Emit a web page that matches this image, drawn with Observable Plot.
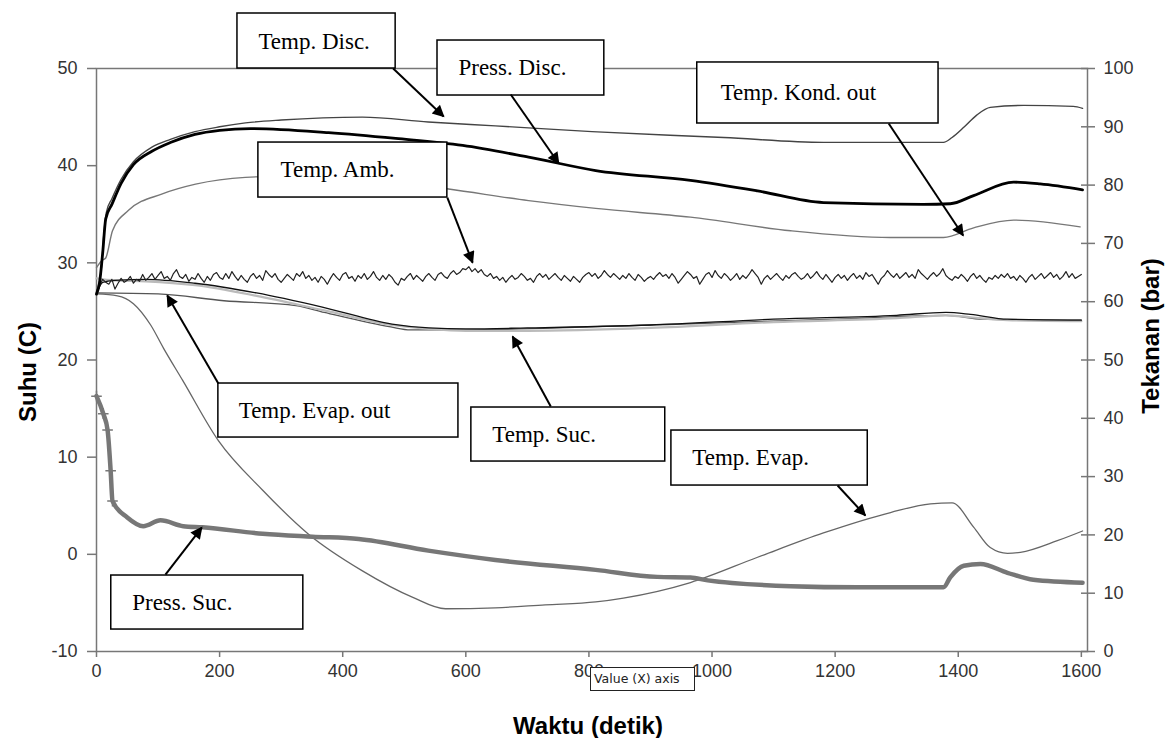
<!DOCTYPE html>
<html><head><meta charset="utf-8">
<script src="https://cdn.jsdelivr.net/npm/d3@7"></script>
<script src="https://cdn.jsdelivr.net/npm/@observablehq/plot@0.6"></script>
<style>
body{margin:0;background:#fff;}
#wrap{position:relative;width:1173px;height:738px;overflow:hidden;}
#tip{position:absolute;left:590px;top:667px;width:105px;height:24px;box-sizing:border-box;background:#fff;border:1px solid #222;font:12.5px "DejaVu Sans",sans-serif;color:#222;line-height:22px;padding-left:3px;white-space:nowrap;}
</style>
</head><body><div id="wrap"></div>
<script>
// ---- data (time in s; temperatures in °C; pressures in bar) ----
const discT = [0, 8, 12, 16, 25, 40, 60, 90, 120, 160, 200, 242, 300, 432, 539, 648, 805, 1019, 1181, 1376, 1390, 1410, 1430, 1452, 1506, 1587, 1602];
const discV = [27.0, 29.5, 33.0, 35.2, 36.6, 38.6, 40.4, 41.9, 42.7, 43.5, 44.0, 44.4, 44.7, 45.0, 44.5, 44.1, 43.5, 42.9, 42.4, 42.4, 42.9, 44.0, 45.2, 46.0, 46.2, 46.1, 45.9];

const pDiscT = [0, 5, 10, 15, 25, 40, 60, 90, 120, 160, 200, 250, 377, 486, 595, 702, 811, 965, 1074, 1181, 1343, 1387, 1425, 1490, 1533, 1602];
const pDiscBar = [61.3, 63.3, 68.3, 74.2, 76.7, 80.3, 83.5, 85.8, 87.3, 88.7, 89.4, 89.7, 89.0, 88.0, 86.8, 84.8, 82.5, 80.8, 79.0, 77.0, 76.7, 76.8, 78.2, 80.5, 80.2, 79.2];

const kondT = [0, 8, 15, 26, 52, 107, 161, 242, 300, 400, 500, 572, 702, 811, 965, 1128, 1290, 1376, 1425, 1490, 1598];
const kondV = [29.5, 30.2, 30.5, 33.3, 35.4, 37.1, 38.1, 38.8, 38.9, 38.8, 38.2, 37.6, 36.4, 35.6, 34.7, 33.3, 32.6, 32.6, 33.6, 34.4, 33.7];

const ambStep = 5;
const ambV = [
 26.8, 27.6, 28.3, 28.0, 27.8, 28.3, 27.3, 27.9, 28.4, 28.0,
 28.2, 28.6, 27.9, 28.3, 28.1, 28.8, 28.2, 28.5, 28.9, 28.3,
 28.7, 29.1, 28.4, 28.6, 28.2, 28.9, 29.3, 28.6, 28.4, 28.8,
 28.1, 28.5, 28.3, 28.9, 28.4, 28.0, 28.6, 28.2, 28.8, 29.0,
 28.5, 28.3, 28.9, 28.4, 29.1, 28.6, 28.2, 28.7, 28.3, 28.0,
 28.6, 28.9, 28.4, 28.7, 28.2, 29.2, 28.8, 28.5, 28.9, 28.3,
 28.0, 28.4, 28.8, 28.5, 28.2, 28.9, 28.6, 29.1, 28.4, 28.7,
 28.2, 28.5, 28.0, 28.6, 28.3, 27.8, 28.4, 28.9, 28.5, 28.2,
 28.8, 29.0, 28.4, 28.6, 28.1, 28.7, 28.4, 28.9, 28.3, 28.6,
 29.1, 28.5, 28.2, 28.7, 28.3, 28.8, 28.5, 28.0, 27.7, 28.4,
 28.2, 28.6, 28.9, 28.3, 28.7, 28.4, 28.1, 28.6, 28.9, 28.5,
 28.2, 28.8, 29.0, 28.6, 28.4, 28.9, 29.2, 28.8, 29.0, 29.4,
 29.3, 29.6, 29.1, 29.4, 29.0, 29.3, 28.8, 28.6, 28.9, 28.4,
 28.6, 28.2, 28.5, 28.0, 28.4, 28.7, 28.3, 28.5, 28.9, 28.6,
 28.2, 28.4, 28.0, 28.6, 28.9, 28.5, 28.8, 28.3, 28.6, 28.9,
 28.5, 28.2, 28.7, 28.4, 28.1, 28.6, 28.3, 28.0, 28.5, 28.8,
 29.0, 28.6, 28.9, 28.4, 28.7, 29.2, 28.8, 28.5, 28.9, 28.6,
 28.3, 28.7, 28.4, 28.9, 28.5, 28.2, 28.8, 28.5, 28.1, 28.4,
 28.6, 28.3, 28.7, 29.0, 28.6, 28.8, 28.4, 28.9, 28.5, 27.9,
 28.3, 28.7, 29.1, 28.8, 28.4, 28.6, 27.8, 28.3, 28.8, 29.0,
 28.5, 29.2, 28.7, 28.4, 28.9, 28.6, 28.2, 28.5, 28.9, 28.3,
 28.7, 28.4, 28.8, 29.3, 28.9, 28.5, 27.8, 28.4, 28.7, 28.3,
 28.6, 28.9, 28.5, 28.2, 28.7, 28.4, 28.8, 29.0, 28.6, 28.3,
 28.5, 28.9, 28.4, 28.7, 29.1, 28.6, 28.3, 28.8, 28.4, 28.0,
 28.5, 28.8, 28.4, 28.7, 28.2, 28.6, 28.9, 28.4, 28.7, 28.3,
 29.0, 28.6, 28.8, 28.3, 27.8, 28.4, 28.7, 29.2, 28.8, 28.5,
 28.9, 28.4, 28.7, 29.0, 28.5, 28.8, 28.4, 29.3, 28.9, 28.6,
 28.3, 28.7, 29.0, 28.6, 28.9, 29.4, 28.7, 28.4, 28.2, 28.6,
 28.4, 28.8, 28.5, 28.1, 28.6, 28.9, 28.4, 28.7, 28.3, 28.0,
 28.5, 28.3, 28.7, 28.4, 28.8, 28.5, 28.9, 28.4, 28.6, 28.2,
 28.7, 28.4, 28.0, 28.5, 28.8, 28.3, 28.6, 28.9, 28.4, 28.7,
 29.0, 28.5, 28.8, 28.3, 28.6, 29.1, 28.5, 28.9, 28.4, 28.6,
 28.8];

const sucT = [0, 10, 30, 80, 160, 260, 370, 480, 540, 600, 700, 900, 1100, 1300, 1380, 1420, 1480, 1600];
const sucBlackV = [26.8, 28.0, 28.2, 28.3, 27.9, 26.9, 25.4, 23.7, 23.3, 23.2, 23.3, 23.6, 24.2, 24.6, 24.9, 24.7, 24.2, 24.1];
const sucGreyV  = [28.4, 28.3, 28.2, 28.1, 27.7, 26.6, 25.1, 23.6, 23.2, 23.0, 23.0, 23.3, 23.9, 24.3, 24.6, 24.4, 24.1, 24.0];

const evOutT = [0, 100, 207, 324, 370, 478, 510, 600, 800, 1000, 1200, 1380, 1440, 1600];
const evOutV = [26.9, 26.8, 26.1, 25.6, 24.9, 23.4, 23.1, 23.1, 23.4, 23.8, 24.2, 24.6, 24.2, 24.1];

const evapT = [0, 34, 60, 88, 109, 140, 198, 270, 344, 432, 513, 567, 648, 729, 811, 856, 965, 1074, 1181, 1290, 1355, 1390, 1425, 1452, 1480, 1501, 1561, 1602];
const evapV = [26.8, 26.6, 25.8, 23.6, 21.2, 17.9, 11.7, 6.6, 2.1, -1.7, -4.4, -5.6, -5.5, -5.2, -4.9, -4.5, -2.9, -0.3, 2.2, 4.3, 5.2, 5.3, 2.8, 0.7, 0.1, 0.2, 1.4, 2.4];

const pSucT = [0, 11, 18, 23, 26, 50, 76, 104, 141, 172, 270, 351, 426, 539, 648, 811, 911, 965, 993, 1128, 1236, 1376, 1387, 1409, 1436, 1480, 1522, 1602];
const pSucBar = [43.8, 40.8, 38.0, 31.0, 25.8, 23.0, 21.5, 22.5, 21.5, 21.3, 20.2, 19.7, 19.3, 17.3, 15.7, 14.0, 12.8, 12.7, 12.2, 11.2, 11.0, 11.0, 12.7, 14.7, 15.0, 13.5, 12.3, 11.8];

// axis ticks
const xTicks = [0, 200, 400, 600, 800, 1000, 1200, 1400, 1600];
const leftTicks = [-10, 0, 10, 20, 30, 40, 50];
const rightTicksBar = [0, 10, 20, 30, 40, 50, 60, 70, 80, 90, 100];

// annotations (data coordinates)
const boxLabels = ["Temp. Disc.", "Press. Disc.", "Temp. Kond. out", "Temp. Amb.", "Temp. Evap. out", "Temp. Suc.", "Temp. Evap.", "Press. Suc."];
const boxT1 = [229, 554, 976, 263, 198, 609, 934, 24];
const boxT2 = [486, 825, 1368, 570, 588, 924, 1253, 336];
const boxV1 = [55.66, 52.88, 50.62, 42.38, 17.58, 15.11, 12.74, -2.18];
const boxV2 = [50.0, 47.22, 44.34, 36.72, 12.02, 9.55, 7.08, -7.74];
const textT = [263, 588, 1014, 299, 231, 643, 968, 58];
const textV = [52.78, 50.05, 47.48, 39.55, 14.8, 12.33, 9.91, -4.96];
const arrowT1 = [482, 673, 1287, 570, 198, 738, 1204, 112];
const arrowV1 = [50.0, 47.32, 44.34, 36.72, 17.58, 15.21, 7.08, -2.08];
const arrowT2 = [564, 751, 1408, 611, 115, 676, 1249, 171];
const arrowV2 = [45.06, 40.22, 32.81, 30.03, 26.64, 22.42, 4.0, 2.76];

// ---- build ----
const barToC = b => b * 0.6 - 10;   // right axis 0..100 bar maps to left -10..50 °C
const cToBar = c => (c + 10) / 0.6;
const rows = (ts, vs) => ts.map((t, i) => ({t, v: vs[i]}));

const disc = rows(discT, discV);
const pDisc = rows(pDiscT, pDiscBar.map(barToC));
const kond = rows(kondT, kondV);
const amb = ambV.map((v, i) => ({t: i * ambStep, v}));
const sucBlack = rows(sucT, sucBlackV);
const sucGrey = rows(sucT, sucGreyV);
const evOut = rows(evOutT, evOutV);
const evap = rows(evapT, evapV);
const pSuc = rows(pSucT, pSucBar.map(barToC));
const boxes = boxLabels.map((label, i) => ({label, x1: boxT1[i], x2: boxT2[i], y1: boxV1[i], y2: boxV2[i], tx: textT[i], ty: textV[i]}));
const arrows = arrowT1.map((t, i) => ({x1: t, y1: arrowV1[i], x2: arrowT2[i], y2: arrowV2[i]}));

const axisColor = "#777";
const sm = "monotone-x";
const chart = Plot.plot({
  width: 1173, height: 738,
  marginLeft: 96, marginRight: 86, marginTop: 68, marginBottom: 87,
  style: {fontFamily: "'Liberation Sans', Arial, sans-serif", fontSize: "18px", color: "#333", background: "#fff", overflow: "visible"},
  x: {domain: [0, 1610]},
  y: {domain: [-10, 50]},
  marks: [
    Plot.frame({stroke: axisColor, strokeWidth: 1.5}),
    Plot.axisX(xTicks, {anchor: "bottom", tickSize: 6, tickPadding: 7, tickFormat: d => String(d), label: null, stroke: axisColor, strokeWidth: 1.5, fill: "#333"}),
    Plot.axisY(leftTicks, {anchor: "left", tickSize: 9, tickPadding: 10, tickFormat: d => String(d), label: null, stroke: axisColor, strokeWidth: 1.5, fill: "#333"}),
    Plot.axisY(rightTicksBar.map(barToC), {anchor: "right", tickSize: 14, dx: -7, tickFormat: () => "", label: null, stroke: axisColor, strokeWidth: 1.5}),
    Plot.axisY(rightTicksBar.map(barToC), {anchor: "right", tickSize: 0, tickPadding: 16, tickFormat: d => String(Math.round(cToBar(d))), label: null, fill: "#333"}),
    Plot.line(evap, {x: "t", y: "v", stroke: "#666", strokeWidth: 1.3, curve: sm}),
    Plot.line(pSuc, {x: "t", y: "v", stroke: "#777", strokeWidth: 4.5, curve: sm}),
    Plot.dot(pSuc.filter(d => d.t <= 26), {x: "t", y: "v", symbol: "plus", r: 3.5, stroke: "#777", strokeWidth: 1.5}),
    Plot.line(evOut, {x: "t", y: "v", stroke: "#555", strokeWidth: 1.3, curve: sm}),
    Plot.line(sucGrey, {x: "t", y: "v", stroke: "#bbb", strokeWidth: 2.2, curve: sm}),
    Plot.line(sucBlack, {x: "t", y: "v", stroke: "#111", strokeWidth: 1.3, curve: sm}),
    Plot.line(amb, {x: "t", y: "v", stroke: "#222", strokeWidth: 1.2}),
    Plot.line(kond, {x: "t", y: "v", stroke: "#777", strokeWidth: 1.4, curve: sm}),
    Plot.line(disc, {x: "t", y: "v", stroke: "#444", strokeWidth: 1.4, curve: sm}),
    Plot.line(pDisc, {x: "t", y: "v", stroke: "#000", strokeWidth: 2.8, curve: sm}),
    Plot.rect(boxes, {x1: "x1", x2: "x2", y1: "y1", y2: "y2", fill: "#fff", stroke: "#000", strokeWidth: 1.5}),
    Plot.text(boxes, {x: "tx", y: "ty", text: "label", textAnchor: "start", lineAnchor: "middle", fontFamily: "'Liberation Serif', 'Times New Roman', serif", fontSize: 23, fill: "#000"}),
    Plot.link(arrows, {x1: "x1", y1: "y1", x2: "x2", y2: "y2", stroke: "#000", strokeWidth: 2}),
    Plot.text(["Waktu (detik)"], {frameAnchor: "bottom", textAnchor: "middle", dx: -4, dy: 75, lineAnchor: "middle", fontWeight: "bold", fontSize: 24, fill: "#000"}),
    Plot.text(["Suhu (C)"], {frameAnchor: "left", textAnchor: "middle", dx: -68, dy: 12, rotate: -90, lineAnchor: "middle", fontWeight: "bold", fontSize: 24, fill: "#000"}),
    Plot.text(["Tekanan (bar)"], {frameAnchor: "right", textAnchor: "middle", dx: 64, dy: -24, rotate: -90, lineAnchor: "middle", fontWeight: "bold", fontSize: 24, fill: "#000"})
  ]
});

// filled arrowheads
const ns = "http://www.w3.org/2000/svg";
const defs = document.createElementNS(ns, "defs");
const marker = document.createElementNS(ns, "marker");
marker.setAttribute("id", "ahead");
marker.setAttribute("viewBox", "0 0 10 10");
marker.setAttribute("refX", "9");
marker.setAttribute("refY", "5");
marker.setAttribute("markerWidth", "7");
marker.setAttribute("markerHeight", "6");
marker.setAttribute("orient", "auto");
const mp = document.createElementNS(ns, "path");
mp.setAttribute("d", "M0,0L10,5L0,10z");
mp.setAttribute("fill", "#000");
marker.appendChild(mp);
defs.appendChild(marker);
chart.insertBefore(defs, chart.firstChild);
chart.querySelectorAll('g[aria-label="link"] path').forEach(p => p.setAttribute("marker-end", "url(#ahead)"));

const wrap = document.getElementById("wrap");
wrap.appendChild(chart);
const tip = document.createElement("div");
tip.id = "tip";
tip.textContent = "Value (X) axis";
wrap.appendChild(tip);
</script>
</body></html>
